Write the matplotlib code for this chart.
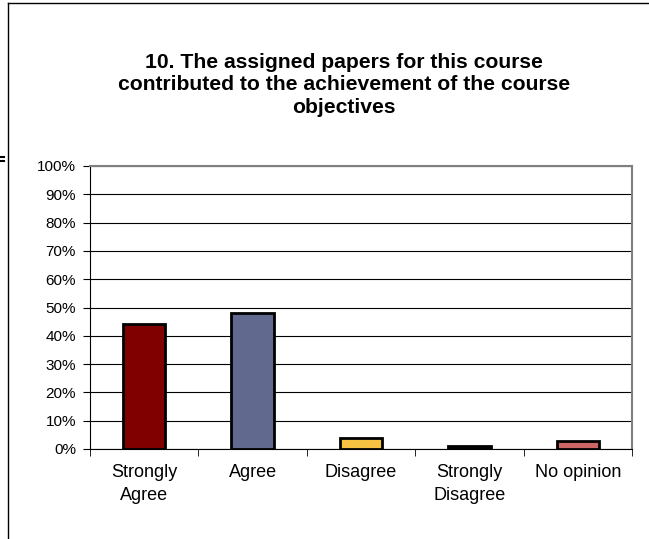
import matplotlib.pyplot as plt
import numpy as np

plt.rcParams['font.family'] = ['Liberation Sans', 'DejaVu Sans']

categories = ["Strongly\nAgree", "Agree", "Disagree", "Strongly\nDisagree", "No opinion"]
values = [44, 48, 4, 1, 3]
colors = ["#800000", "#616A8E", "#F5C242", "#1A1A1A", "#CC6666"]
title = "10. The assigned papers for this course\ncontributed to the achievement of the course\nobjectives"

fig = plt.figure(figsize=(6.49, 5.39), dpi=100)
ax = fig.add_axes([90 / 649, 1 - 449 / 539, 542 / 649, 283 / 539])

# outer chart frame (left and top edges visible)
fig.add_artist(plt.Line2D([8 / 649, 8 / 649], [0, 1 - 3 / 539], color="black", lw=1.0, transform=fig.transFigure))
fig.add_artist(plt.Line2D([8 / 649, 1], [1 - 3 / 539, 1 - 3 / 539], color="black", lw=1.0, transform=fig.transFigure))
# small marks at the left edge
for yy in (157, 161):
    fig.add_artist(plt.Line2D([0, 4 / 649], [1 - yy / 539, 1 - yy / 539], color="black", lw=1.5, transform=fig.transFigure))

x = np.arange(len(categories))
ax.bar(x, values, width=0.39, color=colors, edgecolor="black", linewidth=2, zorder=3)

ax.set_xlim(-0.5, len(categories) - 0.5)
ax.set_ylim(0, 100)
ax.set_yticks(range(0, 101, 10))
ax.set_yticklabels([f"{v}%" for v in range(0, 101, 10)], fontsize=11)
ax.yaxis.grid(True, color="black", lw=0.8, zorder=0)

ax.set_xticks(x)
ax.set_xticklabels(categories, fontsize=13, linespacing=1.45)
ax.set_xticks(np.arange(-0.5, len(categories)), minor=True)
ax.tick_params(axis="x", which="major", length=0, pad=11)
ax.tick_params(axis="x", which="minor", length=5, direction="out")
ax.tick_params(axis="y", length=5, direction="out", pad=5)

ax.spines["left"].set_color("black")
ax.spines["bottom"].set_color("black")
ax.spines["top"].set_color("#808080")
ax.spines["right"].set_color("#808080")
ax.spines["top"].set_linewidth(1.5)
ax.spines["right"].set_linewidth(1.5)

fig.text(344 / 649, 1 - 85 / 539, title, ha="center", va="center",
         fontsize=15.2, fontweight="bold", linespacing=1.25)

fig.savefig("out.png", dpi=100)
